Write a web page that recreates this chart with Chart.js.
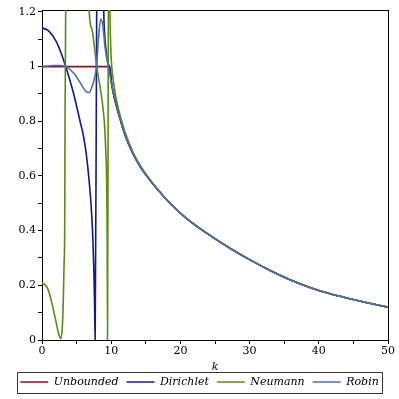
<!DOCTYPE html>
<html>
<head>
<meta charset="utf-8">
<script src="https://cdn.jsdelivr.net/npm/chart.js@4.4.1/dist/chart.umd.min.js"></script>
<style>
  html, body { margin: 0; padding: 0; background: #fff; }
  #wrap { width: 399px; height: 399px; }
</style>
</head>
<body>
<div id="wrap"><canvas id="myChart" width="399" height="399"></canvas></div>
<script>
// valores (k, valor)
const seriesNames = ['Unbounded', 'Dirichlet', 'Neumann', 'Robin'];
const seriesColors = ['#8c1022', '#101a8a', '#5b8c12', '#4e6fa6'];

// tramo comun para k grande
const tailK = [11.2, 12, 13.1, 14.2, 15.5, 17, 18, 20.4, 22.8, 25.2, 27.4, 30, 32.9, 35.5, 38.7, 41.5, 44.5, 47, 50];
const tailV = [0.816, 0.75, 0.684, 0.633, 0.588, 0.542, 0.513, 0.455, 0.408, 0.367, 0.332, 0.294, 0.255, 0.224, 0.192, 0.170, 0.151, 0.1365, 0.12];

const unboundedK = [0, 9.8, 10.1];
const unboundedV = [1, 1, 0.93];

const dirichletK = [0, 1.0, 2.0, 2.8, 3.42, 4.0, 4.6, 5.5, 6.0, 6.4, 6.8, 7.14, 7.35, 7.5, 7.6, 7.68, 7.87, 7.95, 8.85, 8.93, 9.05, 9.3, 9.55, 9.75, 10.1];
const dirichletV = [1.142, 1.13, 1.094, 1.047, 1.0, 0.953, 0.898, 0.80, 0.745, 0.68, 0.585, 0.475, 0.37, 0.25, 0.13, 0.0, 1.0, 1.4, 1.4, 1.2, 1.12, 1.05, 1.01, 1.0, 0.93];

const neumannK = [0, 0.53, 1.0, 1.5, 1.98, 2.46, 2.7, 2.94, 3.09, 3.19, 3.28, 3.33, 3.42, 3.47, 6.7, 6.81, 7.19, 7.54, 7.91, 8.5, 9.0, 9.2, 9.36, 9.42, 9.47, 9.55, 9.6, 9.78, 9.82, 9.95, 10.3, 11.2, 13.1, 15.5];
const neumannV = [0.209, 0.2, 0.176, 0.127, 0.072, 0.018, 0.005, 0.048, 0.158, 0.28, 0.40, 0.8, 1.2, 1.6, 1.6, 1.207, 1.14, 1.079, 1.0, 0.908, 0.80, 0.70, 0.56, 0.38, 0.0, 0.8, 1.3, 1.3, 1.2, 1.06, 0.95, 0.83, 0.69, 0.59];

const robinK = [0, 0.9, 1.74, 2.7, 3.42, 4.64, 5.6, 6.32, 6.8, 7.29, 7.87, 8.16, 8.5, 8.78, 9.13, 9.6, 10.1];
const robinV = [1.0, 1.002, 1.004, 1.004, 1.0, 0.975, 0.938, 0.91, 0.905, 0.932, 1.0, 1.103, 1.174, 1.152, 1.067, 1.0, 0.93];

const xTicks = [0, 10, 20, 30, 40, 50];
const xTickLabels = ['0', '10', '20', '30', '40', '50'];
const xMinorTicks = [5, 15, 25, 35, 45];
const yTicks = [0, 0.2, 0.4, 0.6, 0.8, 1, 1.2];
const yTickLabels = ['0', '0.2', '0.4', '0.6', '0.8', '1', '1.2'];
const yMinorTicks = [0.1, 0.3, 0.5, 0.7, 0.9, 1.1];

function points(ks, vs) {
    return ks.map((k, i) => ({ x: k, y: vs[i] }));
}

function withTail(ks, vs) {
    return points(ks, vs).concat(points(tailK, tailV).filter(p => p.x > ks[ks.length - 1]));
}

function labelFor(value, ticks, labels) {
    const i = ticks.findIndex(t => Math.abs(t - value) < 1e-6);
    return i >= 0 ? labels[i] : '';
}

const allData = [
    withTail(unboundedK, unboundedV),
    withTail(dirichletK, dirichletV),
    withTail(neumannK, neumannV),
    withTail(robinK, robinV)
];

const data = {
    datasets: seriesNames.map((name, i) => ({
        label: name,
        data: allData[i],
        borderColor: seriesColors[i],
        backgroundColor: seriesColors[i],
        borderWidth: 1.6,
        pointRadius: 0,
        cubicInterpolationMode: 'monotone',
        order: seriesNames.length - i,
        xAxisID: 'x',
        yAxisID: 'y'
    }))
};

// marco alrededor de la leyenda
const legendFrame = {
    id: 'legendFrame',
    afterDraw(chart) {
        const boxes = chart.legend && chart.legend.legendHitBoxes;
        if (!boxes || !boxes.length) return;
        const first = boxes[0];
        const last = boxes[boxes.length - 1];
        const left = Math.round(first.left - 3) + 0.5;
        const right = Math.round(last.left + last.width + 3) + 0.5;
        const top = Math.round(first.top - 5) + 0.5;
        const ctx = chart.ctx;
        ctx.save();
        ctx.strokeStyle = '#333';
        ctx.lineWidth = 1;
        ctx.strokeRect(left, top, right - left, 21);
        ctx.restore();
    }
};

Chart.defaults.font.family = "'DejaVu Serif', serif";
Chart.defaults.font.size = 11;
Chart.defaults.color = '#000';

const config = {
    type: 'line',
    data: data,
    options: {
        responsive: false,
        animation: false,
        devicePixelRatio: 1,
        layout: {
            padding: { left: 0, right: 0, top: 0, bottom: 1.5 }
        },
        scales: {
            x: {
                type: 'linear',
                position: 'bottom',
                min: 0,
                max: 50,
                bounds: 'data',
                afterBuildTicks: scale => {
                    scale.ticks = xTicks.concat(xMinorTicks).sort((a, b) => a - b).map(v => ({ value: v }));
                },
                afterFit: scale => { scale.height = 28.5; },
                ticks: {
                    autoSkip: false,
                    maxRotation: 0,
                    padding: 1,
                    callback: value => labelFor(value, xTicks, xTickLabels)
                },
                grid: { drawOnChartArea: false, tickLength: 4, color: '#000' },
                border: { color: '#000', width: 1 },
                title: {
                    display: true,
                    text: 'k',
                    font: { style: 'italic', size: 11 },
                    padding: { top: 0, bottom: -5 }
                }
            },
            y: {
                type: 'linear',
                position: 'left',
                min: 0,
                max: 1.207,
                bounds: 'data',
                afterBuildTicks: scale => {
                    scale.ticks = yTicks.concat(yMinorTicks).sort((a, b) => a - b).map(v => ({ value: v }));
                },
                afterFit: scale => { scale.width = 42; },
                ticks: {
                    autoSkip: false,
                    padding: 2,
                    callback: value => labelFor(value, yTicks, yTickLabels)
                },
                grid: { drawOnChartArea: false, tickLength: 4, color: '#000' },
                border: { color: '#000', width: 1 }
            },
            x2: {
                type: 'linear',
                position: 'top',
                min: 0,
                max: 1,
                afterFit: scale => { scale.height = 10; },
                ticks: { display: false },
                grid: { drawOnChartArea: false, drawTicks: false },
                border: { color: '#000', width: 1 }
            },
            y2: {
                type: 'linear',
                position: 'right',
                min: 0,
                max: 1,
                afterFit: scale => { scale.width = 11; },
                ticks: { display: false },
                grid: { drawOnChartArea: false, drawTicks: false },
                border: { color: '#000', width: 1 }
            }
        },
        plugins: {
            legend: {
                position: 'bottom',
                labels: {
                    usePointStyle: true,
                    pointStyle: 'line',
                    pointStyleWidth: 28,
                    padding: 8,
                    color: '#000',
                    font: { style: 'italic', size: 11 },
                    sort: (a, b) => a.datasetIndex - b.datasetIndex
                }
            },
            tooltip: { enabled: false }
        }
    },
    plugins: [legendFrame]
};

const ctx = document.getElementById('myChart').getContext('2d');
const myLineChart = new Chart(ctx, config);
</script>
</body>
</html>
